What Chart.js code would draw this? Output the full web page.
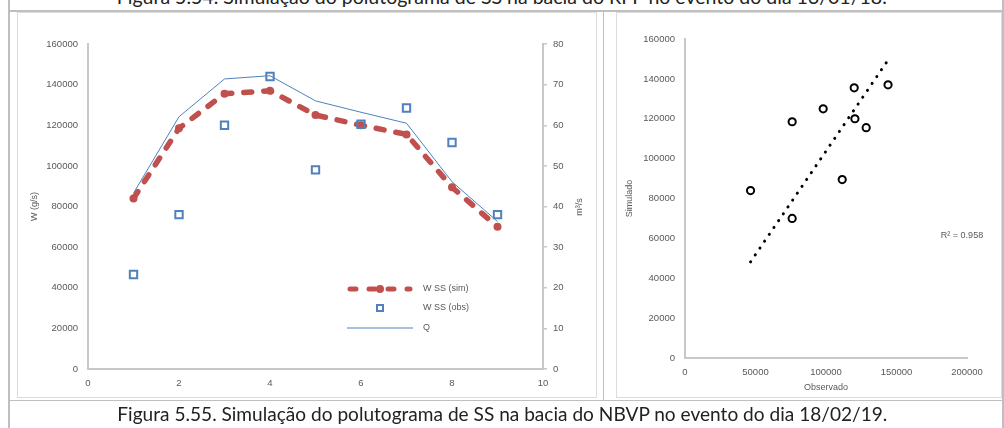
<!DOCTYPE html>
<html>
<head>
<meta charset="utf-8">
<script src="https://cdn.jsdelivr.net/npm/chart.js@4.4.0/dist/chart.umd.min.js"></script>
<style>
  html, body { margin: 0; padding: 0; background: #fff; }
  body { width: 1004px; height: 428px; position: relative; overflow: hidden; }
  .ln { position: absolute; background: #BFBFBF; }
  .box { position: absolute; border: 1.5px solid #DCDCDC; box-sizing: border-box; pointer-events: none; }
  canvas { position: absolute; }
  .cap { position: absolute; left: 0; width: 1004px; text-align: center; white-space: nowrap;
         font-family: Lato, 'Open Sans', sans-serif; font-size: 19.5px; color: #222; }
  .cap span { display: inline-block; transform-origin: center center; }
</style>
</head>
<body>
<div class="cap" style="top:-15px;"><span id="t1">Figura 5.54. Simulação do polutograma de SS na bacia do RFP no evento do dia 13/01/18.</span></div>

<div class="ln" style="left:8px; top:0; width:1.5px; height:428px;"></div>
<div class="ln" style="left:1002px; top:0; width:1.5px; height:428px;"></div>
<div class="ln" style="left:8px; top:10px; width:996px; height:1.5px;"></div>
<div class="ln" style="left:8px; top:399.5px; width:996px; height:1.5px;"></div>
<div class="ln" style="left:602.5px; top:10px; width:1.5px; height:390px;"></div>

<canvas id="c1" width="577" height="385" style="left:18px; top:12px;"></canvas>
<canvas id="c2" width="384" height="385" style="left:617px; top:12px;"></canvas>

<div class="box" style="left:17px; top:12px; width:580px; height:386px;"></div>
<div class="box" style="left:616px; top:12px; width:386px; height:386px;"></div>

<div class="cap" style="top:402px;"><span id="t2">Figura 5.55. Simulação do polutograma de SS na bacia do NBVP no evento do dia 18/02/19.</span></div>

<script>
// ---------- data ----------
const timeSteps = [1, 2, 3, 4, 5, 6, 7, 8, 9];
const wSim = [84000, 118500, 135500, 137000, 125000, 120000, 115500, 89500, 70000];
const wObs = [46500, 76000, 120000, 144000, 98000, 120500, 128500, 111500, 76000];
const qFlow = [43.3, 62.1, 71.4, 72.2, 66.0, 63.2, 60.5, 46.1, 36.3];
const seriesNames = ['W SS (sim)', 'W SS (obs)', 'Q'];
const r2Label = 'R\u00B2 = 0.958';

// fit captions to width
for (const id of ['t1', 't2']) {
  const el = document.getElementById(id);
  const w = el.getBoundingClientRect().width;
  el.style.transform = 'scaleX(' + (770 / w) + ')';
}

const RED = '#C0504D';
const BLUE = '#4F81BD';
const TXT = '#595959';
const AX = '#C8C8C8';
const FONT = "'Liberation Sans', Arial, sans-serif";
Chart.defaults.font.family = FONT;
Chart.defaults.color = TXT;
const plain = v => String(v);

// ---------- left chart ----------
const legendPlugin = {
  id: 'legendInside',
  afterDraw(chart) {
    const ctx = chart.ctx;
    ctx.save();
    const x0 = 329, x1 = 395, tx = 405;
    const rows = [277, 296, 316];
    // sim
    ctx.strokeStyle = RED; ctx.lineWidth = 5; ctx.lineCap = 'round';
    ctx.setLineDash([6, 13]);
    ctx.beginPath(); ctx.moveTo(x0 + 3, rows[0]); ctx.lineTo(x1 - 3, rows[0]); ctx.stroke();
    ctx.setLineDash([]);
    ctx.fillStyle = RED;
    ctx.beginPath(); ctx.arc((x0 + x1) / 2, rows[0], 4, 0, Math.PI * 2); ctx.fill();
    // obs
    ctx.strokeStyle = BLUE; ctx.lineWidth = 2;
    ctx.strokeRect((x0 + x1) / 2 - 3, rows[1] - 3, 6, 6);
    // Q
    ctx.lineWidth = 1; ctx.lineCap = 'butt';
    ctx.beginPath(); ctx.moveTo(x0, rows[2]); ctx.lineTo(x1, rows[2]); ctx.stroke();
    // texts
    ctx.fillStyle = TXT; ctx.font = '9px ' + FONT; ctx.textBaseline = 'middle'; ctx.textAlign = 'left';
    seriesNames.forEach((n, i) => ctx.fillText(n, tx, rows[i]));
    // right axis title (reads bottom to top)
    ctx.translate(562, 195);
    ctx.rotate(-Math.PI / 2);
    ctx.textAlign = 'center';
    ctx.font = '9px ' + FONT;
    ctx.fillText('m\u00B3/s', 0, 0);
    ctx.restore();
  }
};

new Chart(document.getElementById('c1'), {
  type: 'line',
  data: {
    datasets: [
      {
        label: seriesNames[2], yAxisID: 'y1', order: 3,
        data: timeSteps.map((x, i) => ({ x, y: qFlow[i] })),
        borderColor: BLUE, borderWidth: 1, pointRadius: 0, tension: 0, fill: false
      },
      {
        label: seriesNames[0], yAxisID: 'y', order: 2,
        data: timeSteps.map((x, i) => ({ x, y: wSim[i] })),
        borderColor: RED, borderWidth: 5.5, borderDash: [8, 12], borderCapStyle: 'round',
        pointRadius: 4, pointBackgroundColor: RED, pointBorderColor: RED, pointBorderWidth: 0,
        tension: 0, fill: false
      },
      {
        label: seriesNames[1], yAxisID: 'y', order: 1, showLine: false,
        data: timeSteps.map((x, i) => ({ x, y: wObs[i] })),
        pointStyle: 'rect', pointRadius: 5.2, pointBorderWidth: 2,
        pointBorderColor: BLUE, pointBackgroundColor: 'rgba(0,0,0,0)'
      }
    ]
  },
  options: {
    responsive: false, animation: false, devicePixelRatio: 1,
    layout: { padding: { top: 32, left: 0, right: 0, bottom: 0 } },
    plugins: { legend: { display: false }, tooltip: { enabled: false } },
    scales: {
      x: {
        type: 'linear', min: 0, max: 10,
        ticks: { stepSize: 2, padding: 9, font: { size: 9.5 }, color: TXT, callback: plain },
        grid: { display: false, drawTicks: false },
        border: { display: true, color: AX, width: 2 },
        afterFit(s) { s.height = 28; }
      },
      y: {
        type: 'linear', position: 'left', min: 0, max: 160000,
        ticks: { stepSize: 20000, padding: 10, font: { size: 9.5 }, color: TXT, callback: plain },
        grid: { display: false, drawTicks: false },
        border: { display: true, color: AX, width: 2 },
        title: { display: true, text: 'W (g/s)', font: { size: 9 }, color: TXT, padding: { top: 11.5, bottom: 0 } },
        afterFit(s) { s.width = 70; }
      },
      y1: {
        type: 'linear', position: 'right', min: 0, max: 80,
        ticks: { stepSize: 10, padding: 6, font: { size: 9.5 }, color: TXT, callback: plain },
        grid: { display: true, drawOnChartArea: false, drawTicks: true, tickLength: 4, color: AX, lineWidth: 1.5 },
        border: { display: true, color: AX, width: 2 },
        afterFit(s) { s.width = 52; }
      }
    }
  },
  plugins: [legendPlugin]
});

// ---------- right chart ----------
const pairs = wObs.map((o, i) => ({ x: o, y: wSim[i] }));
// linear trend through origin (least squares)
const sxy = pairs.reduce((a, p) => a + p.x * p.y, 0);
const sxx = pairs.reduce((a, p) => a + p.x * p.x, 0);
const slope = sxy / sxx;
const xMin = Math.min(...wObs), xMax = Math.max(...wObs);
const trend = [{ x: xMin, y: slope * xMin }, { x: xMax, y: slope * xMax }];

const r2Plugin = {
  id: 'r2',
  afterDraw(chart) {
    const ctx = chart.ctx;
    ctx.save();
    ctx.fillStyle = TXT; ctx.font = '9px ' + FONT;
    ctx.textAlign = 'center'; ctx.textBaseline = 'middle';
    ctx.fillText(r2Label, 345, 224);
    ctx.restore();
  }
};

new Chart(document.getElementById('c2'), {
  type: 'scatter',
  data: {
    datasets: [
      {
        label: 'trend', type: 'line', order: 2,
        data: trend, borderColor: '#000', borderWidth: 3, borderDash: [0.1, 8.2],
        borderCapStyle: 'round', pointRadius: 0, fill: false
      },
      {
        label: 'pts', order: 1,
        data: pairs, pointRadius: 3.6, pointBorderWidth: 2,
        pointBorderColor: '#000', pointBackgroundColor: 'rgba(255,255,255,0)'
      }
    ]
  },
  options: {
    responsive: false, animation: false, devicePixelRatio: 1,
    layout: { padding: { top: 27, left: 0, right: 34, bottom: 0 } },
    plugins: { legend: { display: false }, tooltip: { enabled: false } },
    scales: {
      x: {
        type: 'linear', min: 0, max: 200000,
        ticks: { stepSize: 50000, padding: 9, font: { size: 9.5 }, color: TXT, callback: plain },
        grid: { display: false, drawTicks: false },
        border: { display: true, color: AX, width: 2 },
        title: { display: true, text: 'Observado', font: { size: 9 }, color: TXT, padding: { top: 0, bottom: 4.5 } },
        afterFit(s) { s.height = 39; }
      },
      y: {
        type: 'linear', min: 0, max: 160000,
        ticks: { stepSize: 20000, padding: 10, font: { size: 9.5 }, color: TXT, callback: plain },
        grid: { display: false, drawTicks: false },
        border: { display: true, color: AX, width: 2 },
        title: { display: true, text: 'Simulado', font: { size: 9 }, color: TXT, padding: { top: 7.5, bottom: 0 } },
        afterFit(s) { s.width = 68; }
      }
    }
  },
  plugins: [r2Plugin]
});
</script>
</body>
</html>
